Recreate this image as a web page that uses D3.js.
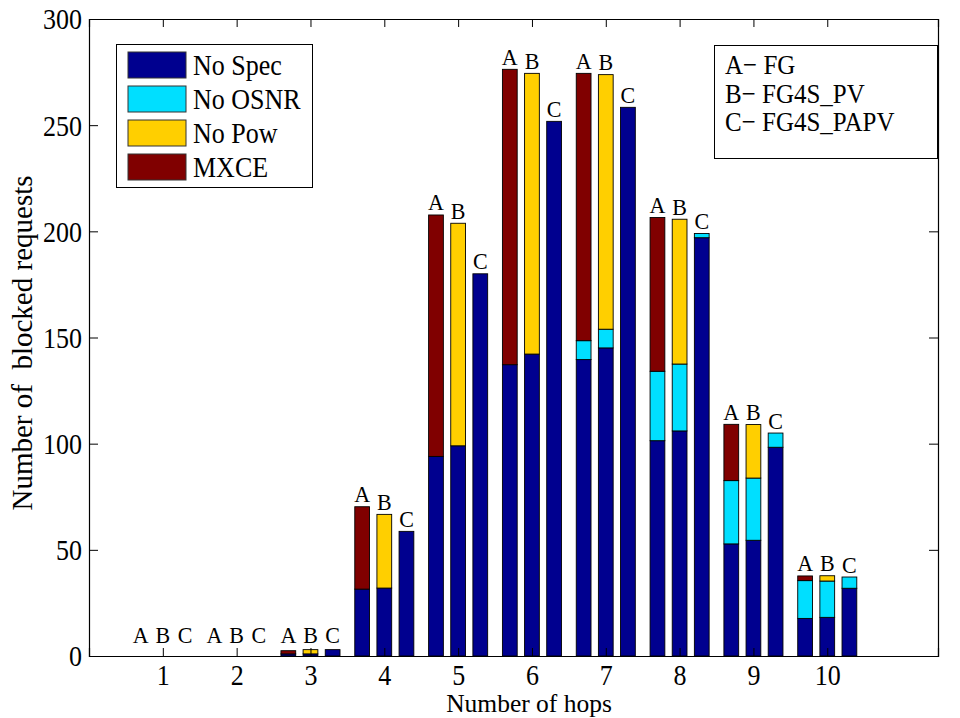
<!DOCTYPE html>
<html>
<head>
<meta charset="utf-8">
<script src="https://cdn.jsdelivr.net/npm/d3@7/dist/d3.min.js"></script>
<style>
  html, body { margin: 0; padding: 0; background: #fff; }
  svg text { font-family: "Liberation Serif", "Times New Roman", serif; fill: #000; }
</style>
</head>
<body>
<svg id="chart" width="960" height="718"></svg>
<script>
// ---------- data ----------
const hops = [1, 2, 3, 4, 5, 6, 7, 8, 9, 10];
const schemes = ["A", "B", "C"];
const schemeNames = ["FG", "FG4S_PV", "FG4S_PAPV"];
const causes = ["No Spec", "No OSNR", "No Pow", "MXCE"];
const yTicks = [0, 50, 100, 150, 200, 250, 300];

// A - FG
const fgNoSpec = [0, 0, 1, 31.5, 94, 137.2, 139.6, 101.4, 52.8, 17.7];
const fgNoOSNR = [0, 0, 0, 0, 0, 0, 8.9, 32.7, 29.8, 17.8];
const fgNoPow  = [0, 0, 0, 0, 0, 0, 0, 0, 0, 0];
const fgMXCE   = [0, 0, 1.5, 38.8, 113.7, 139.1, 125.9, 72.4, 26.5, 2.2];
// B - FG4S_PV
const pvNoSpec = [0, 0, 1, 32, 99, 142.2, 145.1, 106, 54.5, 18.2];
const pvNoOSNR = [0, 0, 0, 0, 0, 0, 8.8, 31.5, 29.3, 17.1];
const pvNoPow  = [0, 0, 2, 34.7, 104.8, 132.2, 119.9, 68.2, 25.2, 2.5];
const pvMXCE   = [0, 0, 0, 0, 0, 0, 0, 0, 0, 0];
// C - FG4S_PAPV
const papvNoSpec = [0, 0, 3, 58.7, 180, 251.8, 258.4, 197, 98.3, 31.9];
const papvNoOSNR = [0, 0, 0, 0, 0, 0, 0, 2, 6.7, 5.3];
const papvNoPow  = [0, 0, 0, 0, 0, 0, 0, 0, 0, 0];
const papvMXCE   = [0, 0, 0, 0, 0, 0, 0, 0, 0, 0];

const schemeData = [
  [fgNoSpec, fgNoOSNR, fgNoPow, fgMXCE],
  [pvNoSpec, pvNoOSNR, pvNoPow, pvMXCE],
  [papvNoSpec, papvNoOSNR, papvNoPow, papvMXCE]
];

// ---------- layout ----------
const colors = ["#00008F", "#00DFFF", "#FFCF00", "#800000"];
const L = 89, R = 938, T = 19, B = 656;
const SY = 1.12; // vertical stretch of glyphs, as in the reference
const svg = d3.select("#chart");
svg.append("rect").attr("width", 960).attr("height", 718).attr("fill", "#fff");

function place(sel, px, py, sx = 1, sy = SY) {
  sel.attr("x", 0).attr("y", 0)
     .attr("transform", (d, i, n) => {
       const X = typeof px === "function" ? px(d, i, n) : px;
       const Y = typeof py === "function" ? py(d, i, n) : py;
       return `translate(${X},${Y}) scale(${sx},${sy})`;
     });
  return sel;
}

const x = d3.scaleLinear().domain([0, 11.5]).range([L, R]);
const y = d3.scaleLinear().domain([0, 300]).range([B, T]);
const offsets = [-0.3, 0, 0.3];
const barW = x(0.2) - x(0);

const g = svg.append("g");

schemes.forEach((s, si) => {
  const rows = hops.map((h, i) => {
    const o = { hop: h };
    causes.forEach((c, ci) => { o[c] = schemeData[si][ci][i]; });
    return o;
  });
  const stacked = d3.stack().keys(causes)(rows);
  stacked.forEach((layer, li) => {
    g.selectAll(null).data(layer.filter(d => d[1] - d[0] > 0)).enter()
      .append("rect")
      .attr("x", d => x(d.data.hop + offsets[si]) - barW / 2)
      .attr("width", barW)
      .attr("y", d => y(d[1]))
      .attr("height", d => y(d[0]) - y(d[1]))
      .attr("fill", colors[li])
      .attr("stroke", "#000")
      .attr("stroke-width", 0.9);
  });
  // letter labels
  const lbl = g.selectAll(null).data(rows).enter()
    .append("text")
    .attr("text-anchor", "middle")
    .attr("font-size", 22)
    .text(s);
  place(lbl, d => x(d.hop + offsets[si]), d => {
      const tot = causes.reduce((a, c) => a + d[c], 0);
      return Math.min(y(tot) - 4.5, 643);
    }, 1, 1.08);
});

// ---------- axes ----------
const axL = svg.append("g").attr("transform", `translate(${L},0)`)
  .call(d3.axisLeft(y).tickValues(yTicks).tickSize(-9).tickPadding(7).tickFormat(d3.format("d")));
const axR = svg.append("g").attr("transform", `translate(${R},0)`)
  .call(d3.axisRight(y).tickValues(yTicks).tickSize(-9).tickFormat(""));
const axB = svg.append("g").attr("transform", `translate(0,${B})`)
  .call(d3.axisBottom(x).tickValues(hops).tickSize(-8).tickFormat(d3.format("d")));
const axT = svg.append("g").attr("transform", `translate(0,${T})`)
  .call(d3.axisTop(x).tickValues(hops).tickSize(-8).tickFormat(""));

[axL, axR, axB, axT].forEach(a => {
  a.select(".domain").attr("stroke", "#000").attr("stroke-width", 1.2);
  a.selectAll(".tick line").attr("stroke", "#000").attr("stroke-width", 1);
  a.selectAll("text").attr("font-family", "Liberation Serif").attr("font-size", 26).attr("fill", "#000");
});
axL.selectAll(".tick").filter(d => d === 0 || d === 300).select("line").remove();
axR.selectAll(".tick").filter(d => d === 0 || d === 300).select("line").remove();
axB.selectAll("text").attr("dy", null).attr("x", 0).attr("y", 0)
  .attr("transform", `translate(0,29) scale(1,${SY})`);
place(axL.selectAll("text").attr("dy", "0.34em"), -7, 0);

// axis titles
svg.append("text").attr("x", 529).attr("y", 712)
  .attr("text-anchor", "middle").attr("font-size", 25.5).text("Number of hops");
svg.append("text")
  .attr("transform", "translate(32,343) rotate(-90)")
  .attr("text-anchor", "middle").attr("font-size", 29)
  .style("white-space", "pre").attr("xml:space", "preserve")
  .text("Number of  blocked requests");

// ---------- legend 1 ----------
const lg = svg.append("g");
lg.append("rect").attr("x", 116.5).attr("y", 44.5).attr("width", 196).attr("height", 143)
  .attr("fill", "#fff").attr("stroke", "#000").attr("stroke-width", 1);
causes.forEach((c, i) => {
  lg.append("rect").attr("x", 128).attr("y", 52 + i * 34).attr("width", 58).attr("height", 26)
    .attr("fill", colors[i]).attr("stroke", "#333").attr("stroke-width", 1);
  place(lg.append("text").attr("font-size", 26).text(c), 193, 75 + i * 34);
});

// ---------- legend 2 ----------
const lg2 = svg.append("g");
lg2.append("rect").attr("x", 714.5).attr("y", 45.5).attr("width", 223).attr("height", 113)
  .attr("fill", "#fff").attr("stroke", "#000").attr("stroke-width", 1);
schemes.forEach((s, i) => {
  place(lg2.append("text").attr("font-size", 25).text(s + "\u2212 " + schemeNames[i]),
    725, 74 + i * 28.5);
});
</script>
</body>
</html>
